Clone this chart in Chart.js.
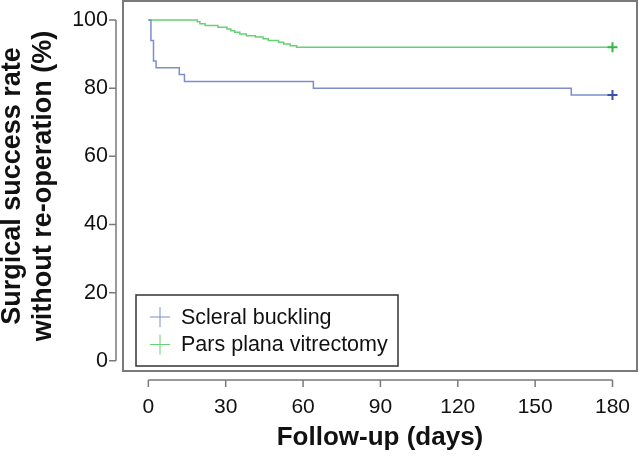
<!DOCTYPE html>
<html>
<head>
<meta charset="utf-8">
<script src="https://cdn.jsdelivr.net/npm/chart.js@4"></script>
<style>
    html, body { margin: 0; padding: 0; background: #fff; }
    #wrap { width: 639px; height: 456px; position: relative; }
</style>
</head>
<body>
<div id="wrap"><canvas id="kmChart"></canvas></div>
<script>
const xTicks = [0, 30, 60, 90, 120, 150, 180];
const yTicks = [0, 20, 40, 60, 80, 100];

const sbLabel = 'Scleral buckling';
const sbDays = [0, 1, 2, 3, 12, 14, 64, 164, 180];
const sbRate = [100, 94, 88, 86, 84, 82, 80, 78, 78];

const ppvLabel = 'Pars plana vitrectomy';
const ppvDays = [0, 19, 20, 22, 27, 30.5, 32, 33.5, 35.5, 38, 41.5, 44.5, 46.5, 50.5, 52.5, 55, 57.5, 180];
const ppvRate = [100, 99.5, 98.9, 98.4, 97.9, 97.4, 96.9, 96.4, 95.9, 95.4, 95.0, 94.5, 94.0, 93.5, 93.0, 92.5, 92.0, 92.0];

const FONT = 'Liberation Sans, Arial, sans-serif';
const AXIS_GREY = '#7a7a7a';

const pts = (xs, ys) => xs.map((x, i) => ({ x: x, y: ys[i] }));
const lastOnly = (r) => (ctx) => (ctx.dataIndex === ctx.dataset.data.length - 1 ? r : 0);

// box round the plot, detached axes and a legend inside the plot
const framePlugin = {
    id: 'frame',
    afterDraw(chart) {
        const { ctx, chartArea: a, scales } = chart;
        const xs = scales.x, ys = scales.y;
        ctx.save();
        ctx.strokeStyle = AXIS_GREY;
        ctx.lineWidth = 2;
        ctx.strokeRect(a.left, a.top, a.right - a.left, a.bottom - a.top);

        ctx.lineWidth = 1.5;
        const ax = a.left - 7;
        ctx.beginPath();
        ctx.moveTo(ax, ys.getPixelForValue(yTicks[0]));
        ctx.lineTo(ax, ys.getPixelForValue(yTicks[yTicks.length - 1]));
        yTicks.forEach((v) => {
            const y = ys.getPixelForValue(v);
            ctx.moveTo(ax, y);
            ctx.lineTo(ax - 7, y);
        });
        const ay = a.bottom + 9;
        ctx.moveTo(xs.getPixelForValue(xTicks[0]), ay);
        ctx.lineTo(xs.getPixelForValue(xTicks[xTicks.length - 1]), ay);
        xTicks.forEach((v) => {
            const x = xs.getPixelForValue(v);
            ctx.moveTo(x, ay);
            ctx.lineTo(x, ay + 7);
        });
        ctx.stroke();

        // legend
        const lx = a.left + 13, ly = 295, lw = 262, lh = 71;
        ctx.strokeStyle = '#333';
        ctx.lineWidth = 1.5;
        ctx.strokeRect(lx, ly, lw, lh);
        ctx.font = '21.5px ' + FONT;
        ctx.textBaseline = 'middle';
        ctx.fillStyle = '#111';
        chart.data.datasets.forEach((ds, i) => {
            const cy = ly + 22 + i * 27.5;
            ctx.strokeStyle = ds.borderColor;
            ctx.lineWidth = 1;
            ctx.beginPath();
            ctx.moveTo(lx + 14, cy); ctx.lineTo(lx + 34, cy);
            ctx.moveTo(lx + 24, cy - 10); ctx.lineTo(lx + 24, cy + 10);
            ctx.stroke();
            ctx.fillText(ds.label, lx + 45, cy + 1);
        });
        ctx.restore();
    },
};

new Chart(document.getElementById('kmChart'), {
    type: 'line',
    plugins: [framePlugin],
    data: {
        datasets: [
            {
                label: sbLabel,
                data: pts(sbDays, sbRate),
                borderColor: '#7d8dcc',
                borderWidth: 1.5,
                stepped: 'before',
                pointStyle: 'cross',
                pointRadius: lastOnly(5),
                pointBorderColor: '#3c50a8',
                pointBorderWidth: 2,
            },
            {
                label: ppvLabel,
                data: pts(ppvDays, ppvRate),
                borderColor: '#68d077',
                borderWidth: 1.5,
                stepped: 'before',
                pointStyle: 'cross',
                pointRadius: lastOnly(5),
                pointBorderColor: '#33b845',
                pointBorderWidth: 2,
            },
        ],
    },
    options: {
        responsive: true,
        maintainAspectRatio: false,
        animation: false,
        layout: { autoPadding: false, padding: { top: 1, right: 2, left: 0, bottom: 0 } },
        plugins: { legend: { display: false }, tooltip: { enabled: false } },
        scales: {
            x: {
                type: 'linear',
                min: -9.83,
                max: 189.5,
                afterBuildTicks: (s) => { s.ticks = xTicks.map((v) => ({ value: v })); },
                afterFit: (s) => { s.height = 85; s.paddingLeft = 0; s.paddingRight = 0; },
                grid: { display: false, drawTicks: false },
                border: { display: false },
                ticks: { padding: 24, color: '#111', font: { family: FONT, size: 21 } },
                title: {
                    display: true,
                    text: 'Follow-up (days)',
                    color: '#111',
                    font: { family: FONT, size: 26, weight: 'bold', lineHeight: 1.2 },
                    padding: { top: 0, bottom: 3 },
                },
            },
            y: {
                type: 'linear',
                min: -3.0,
                max: 105.6,
                afterBuildTicks: (s) => { s.ticks = yTicks.map((v) => ({ value: v })); },
                afterFit: (s) => { s.width = 123; s.paddingTop = 0; s.paddingBottom = 0; },
                grid: { display: false, drawTicks: false },
                border: { display: false },
                ticks: { padding: 15, color: '#111', font: { family: FONT, size: 21.5 } },
                title: {
                    display: true,
                    text: ['Surgical success rate', 'without re-operation (%)'],
                    color: '#111',
                    font: { family: FONT, size: 27, weight: 'bold', lineHeight: 1.148 },
                    padding: { top: -3, bottom: 0 },
                },
            },
        },
    },
});
</script>
</body>
</html>
